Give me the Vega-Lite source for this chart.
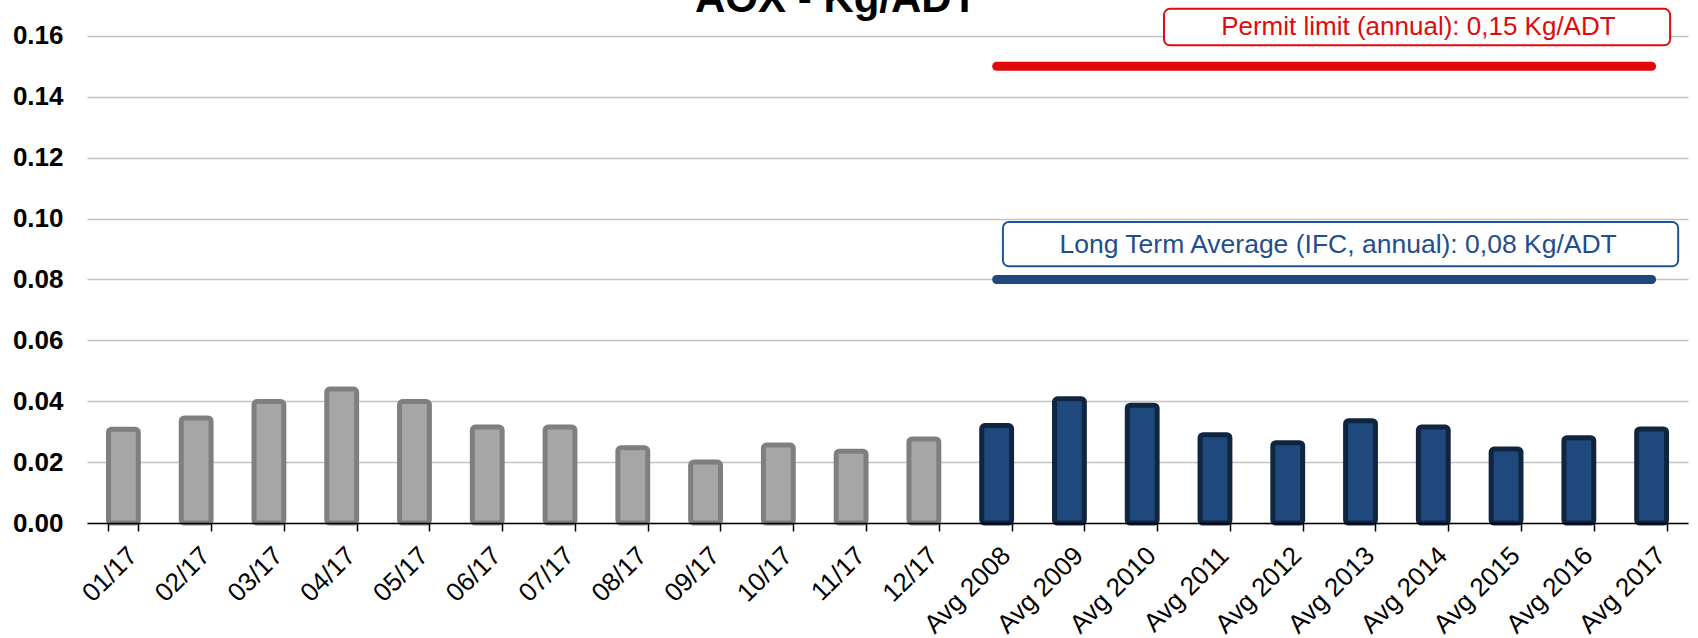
{
  "$schema": "https://vega.github.io/schema/vega-lite/v6.json",
  "width": 1601,
  "height": 523,
  "autosize": {"type": "none"},
  "padding": {"left": 87, "top": 0, "right": 10, "bottom": 115},
  "background": "white",
  "config": {"view": {"stroke": null}, "font": "Liberation Sans"},
  "datasets": {
    "bars": [
      {"cat": "01/17", "value": 0.0308, "group": "month"},
      {"cat": "02/17", "value": 0.0345, "group": "month"},
      {"cat": "03/17", "value": 0.0399, "group": "month"},
      {"cat": "04/17", "value": 0.044, "group": "month"},
      {"cat": "05/17", "value": 0.0399, "group": "month"},
      {"cat": "06/17", "value": 0.0315, "group": "month"},
      {"cat": "07/17", "value": 0.0315, "group": "month"},
      {"cat": "08/17", "value": 0.0247, "group": "month"},
      {"cat": "09/17", "value": 0.0200, "group": "month"},
      {"cat": "10/17", "value": 0.0256, "group": "month"},
      {"cat": "11/17", "value": 0.0236, "group": "month"},
      {"cat": "12/17", "value": 0.0276, "group": "month"},
      {"cat": "Avg 2008", "value": 0.032, "group": "year"},
      {"cat": "Avg 2009", "value": 0.0408, "group": "year"},
      {"cat": "Avg 2010", "value": 0.0387, "group": "year"},
      {"cat": "Avg 2011", "value": 0.029, "group": "year"},
      {"cat": "Avg 2012", "value": 0.0264, "group": "year"},
      {"cat": "Avg 2013", "value": 0.0336, "group": "year"},
      {"cat": "Avg 2014", "value": 0.0315, "group": "year"},
      {"cat": "Avg 2015", "value": 0.0243, "group": "year"},
      {"cat": "Avg 2016", "value": 0.028, "group": "year"},
      {"cat": "Avg 2017", "value": 0.0309, "group": "year"}
    ],
    "limits": [
      {"start": "Avg 2008", "end": "Avg 2017", "value": 0.15, "kind": "permit"},
      {"start": "Avg 2008", "end": "Avg 2017", "value": 0.08, "kind": "lta"}
    ]
  },
  "layer": [
    {
      "data": {"name": "bars"},
      "mark": {"type": "rect", "strokeWidth": 5, "cornerRadius": 3},
      "encoding": {
        "x": {
          "field": "cat", "type": "nominal", "title": null,
          "scale": {"domain": ["01/17","02/17","03/17","04/17","05/17","06/17","07/17","08/17","09/17","10/17","11/17","12/17","Avg 2008","Avg 2009","Avg 2010","Avg 2011","Avg 2012","Avg 2013","Avg 2014","Avg 2015","Avg 2016","Avg 2017"], "paddingInner": 0.59, "paddingOuter": 0.295},
          "axis": {"labelAngle": -45, "labelFontSize": 26, "labelColor": "#000000", "labelPadding": 11, "tickBand": "extent", "tickColor": "#000000", "tickSize": 8, "tickWidth": 1.5, "domainColor": "#000000", "domainWidth": 1.5, "grid": false, "labelFont": "Liberation Sans"}
        },
        "y": {
          "field": "value", "type": "quantitative", "title": null,
          "scale": {"domain": [0, 0.1718], "nice": false},
          "axis": {"values": [0, 0.02, 0.04, 0.06, 0.08, 0.1, 0.12, 0.14, 0.16], "format": ".2f", "labelFontSize": 26, "labelFontWeight": "bold", "labelColor": "#000000", "labelPadding": 24, "ticks": false, "domain": false, "gridColor": "#C4C4BE", "gridWidth": 1.5, "labelFont": "Liberation Sans"}
        },
        "y2": {"datum": 0},
        "fill": {"field": "group", "type": "nominal", "scale": {"domain": ["month", "year"], "range": ["#A6A6A6", "#1F497D"]}, "legend": null},
        "stroke": {"field": "group", "type": "nominal", "scale": {"domain": ["month", "year"], "range": ["#7F7F7F", "#10253F"]}, "legend": null}
      }
    },
    {
      "data": {"name": "limits"},
      "mark": {"type": "rule", "strokeWidth": 9, "strokeCap": "round"},
      "encoding": {
        "x": {"field": "start", "type": "nominal"},
        "x2": {"field": "end"},
        "y": {"field": "value", "type": "quantitative"},
        "color": {"field": "kind", "type": "nominal", "scale": {"domain": ["permit", "lta"], "range": ["#E00A0A", "#1F497D"]}, "legend": null}
      }
    },
    {
      "data": {"values": [{"from": "Avg 2010", "to": "Avg 2017", "top": 0.1689, "bottom": 0.1569}]},
      "mark": {"type": "rect", "fill": "white", "stroke": "#E00A0A", "strokeWidth": 2, "cornerRadius": 6},
      "encoding": {
        "x": {"field": "from", "type": "nominal", "bandPosition": 1.23},
        "x2": {"field": "to", "bandPosition": 1.12},
        "y": {"field": "top", "type": "quantitative"},
        "y2": {"field": "bottom"}
      }
    },
    {
      "data": {"values": [{"from": "Avg 2008", "to": "Avg 2017", "top": 0.0989, "bottom": 0.0843}]},
      "mark": {"type": "rect", "fill": "white", "stroke": "#1F5597", "strokeWidth": 2, "cornerRadius": 6},
      "encoding": {
        "x": {"field": "from", "type": "nominal", "bandPosition": 0.71},
        "x2": {"field": "to", "bandPosition": 1.39},
        "y": {"field": "top", "type": "quantitative"},
        "y2": {"field": "bottom"}
      }
    },
    {
      "data": {"values": [{"at": "Avg 2014", "y": 0.1629, "label": "Permit limit (annual): 0,15 Kg/ADT"}]},
      "mark": {"type": "text", "fontSize": 26, "color": "#E00A0A", "baseline": "middle", "align": "center", "font": "Liberation Sans"},
      "encoding": {
        "x": {"field": "at", "type": "nominal", "bandPosition": 0},
        "y": {"field": "y", "type": "quantitative"},
        "text": {"field": "label"}
      }
    },
    {
      "data": {"values": [{"at": "Avg 2013", "y": 0.0914, "label": "Long Term Average (IFC, annual): 0,08 Kg/ADT"}]},
      "mark": {"type": "text", "fontSize": 26.5, "color": "#1F4E8C", "baseline": "middle", "align": "center", "font": "Liberation Sans"},
      "encoding": {
        "x": {"field": "at", "type": "nominal", "bandPosition": -0.25},
        "y": {"field": "y", "type": "quantitative"},
        "text": {"field": "label"}
      }
    },
    {
      "data": {"values": [{"at": "11/17", "y": 0.1679, "label": "AOX - Kg/ADT"}]},
      "mark": {"type": "text", "fontSize": 42, "fontWeight": "bold", "color": "#000000", "baseline": "alphabetic", "align": "center", "font": "Liberation Sans"},
      "encoding": {
        "x": {"field": "at", "type": "nominal", "bandPosition": 0},
        "y": {"field": "y", "type": "quantitative"},
        "text": {"field": "label"}
      }
    }
  ]
}
